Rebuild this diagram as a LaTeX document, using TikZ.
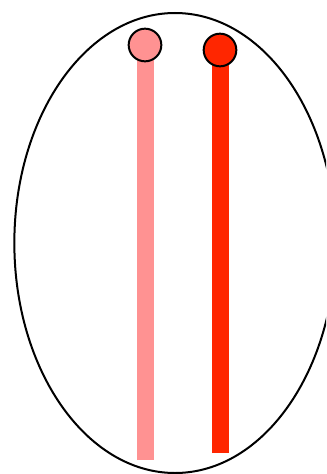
\documentclass[tikz,border=0pt]{standalone}
\usepackage{tikz}
\usetikzlibrary{shapes.geometric}

\definecolor{palered}{RGB}{255,146,146}
\definecolor{brightred}{RGB}{255,38,0}

\tikzset{
    bar/.style={line width=12.75pt, line cap=butt},
    knob/.style={circle, draw=black, line width=1.5pt, minimum size=24.5pt, inner sep=0pt}
}

\begin{document}
\begin{tikzpicture}[x=0.75pt, y=-0.75pt]
    \useasboundingbox (0,0) rectangle (326,474);
    \clip (0,0) rectangle (326,474);

    \coordinate (PT) at (145,45);
    \coordinate (PB) at (145,460);
    \coordinate (RT) at (220,50);
    \coordinate (RB) at (220,453);

    \node[ellipse, draw=black, line width=1.5pt, minimum width=241pt, minimum height=345pt, inner sep=0pt] (cell) at (175,243) {};

    \draw[bar, palered] (PB) -- (PT);
    \draw[bar, brightred] (RB) -- (RT);

    \node[knob, fill=palered] (pknob) at (PT) {};
    \node[knob, fill=brightred] (rknob) at (RT) {};
\end{tikzpicture}
\end{document}
